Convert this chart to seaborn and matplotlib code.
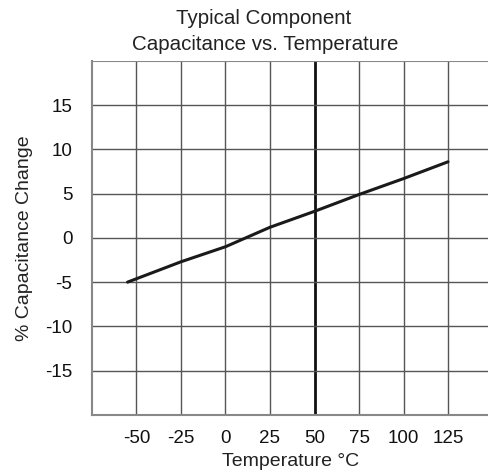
import matplotlib
matplotlib.use("Agg")
import matplotlib.pyplot as plt
import seaborn as sns
import pandas as pd

# Data
temperature = [-55, -25, 0, 25, 50, 75, 100, 125]
cap_change = [-5.0, -2.7, -1.0, 1.2, 3.0, 4.9, 6.7, 8.6]
x_ticks = [-50, -25, 0, 25, 50, 75, 100, 125]
y_ticks = [15, 10, 5, 0, -5, -10, -15]

sns.set_style("white")
plt.rcParams['font.family'] = ['Liberation Sans', 'DejaVu Sans']

df = pd.DataFrame({"Temperature": temperature, "Change": cap_change})

fig = plt.figure(figsize=(4.89, 4.72), dpi=100)
ax = fig.add_axes([0.188, 0.121, 0.812, 0.750])

ax.set_xlim(-75, 148)
ax.set_ylim(-20, 20)

grid_color = "#555555"
for xv in x_ticks:
    if xv == 50:
        ax.axvline(xv, color="#111111", lw=2.0, zorder=1)
    else:
        ax.axvline(xv, color=grid_color, lw=1.0, zorder=1)
for yv in y_ticks:
    ax.axhline(yv, color=grid_color, lw=1.0, zorder=1)
ax.axhline(20, color="#888888", lw=1.5, zorder=1)

sns.lineplot(data=df, x="Temperature", y="Change", ax=ax, color="#1a1a1a",
             lw=2.2, zorder=3)

ax.set_xticks(x_ticks)
ax.set_yticks(y_ticks)
ax.set_xticklabels([str(v) for v in x_ticks], fontsize=13.5, color="#111111")
ax.set_yticklabels([str(v) for v in y_ticks], fontsize=13.5, color="#111111")
ax.tick_params(axis="both", length=0)
ax.tick_params(axis="y", pad=14)
ax.tick_params(axis="x", pad=11)

for side in ["top", "right"]:
    ax.spines[side].set_visible(False)
for side in ["left", "bottom"]:
    ax.spines[side].set_color("#888888")
    ax.spines[side].set_linewidth(1.5)

ax.set_xlabel("Temperature °C", fontsize=14, color="#222222", labelpad=4)
ax.set_ylabel("% Capacitance Change", fontsize=14, color="#222222", labelpad=9)

fig.text(0.539, 0.960, "Typical Component", ha="center", va="center",
         fontsize=14.8, color="#222222")
fig.text(0.543, 0.906, "Capacitance vs. Temperature", ha="center", va="center",
         fontsize=14.8, color="#222222")

fig.savefig("out.png", dpi=100)
